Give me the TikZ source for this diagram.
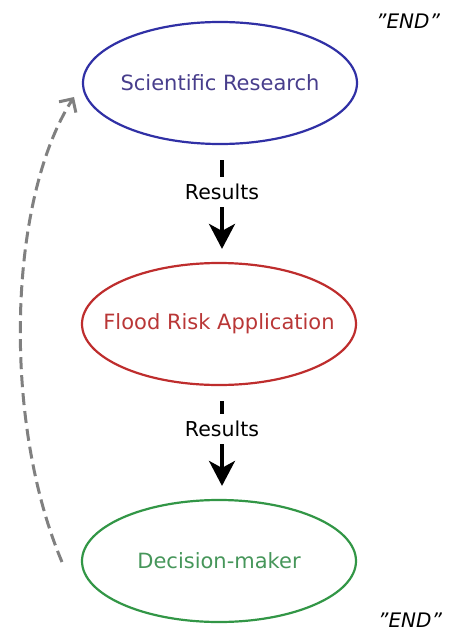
\documentclass[tikz,border=0pt]{standalone}
\usepackage{fontspec}
\setmainfont{DejaVu Sans}
\usetikzlibrary{shapes.geometric,arrows.meta}
\definecolor{sciborder}{RGB}{48,48,165}
\definecolor{scitext}{RGB}{72,62,140}
\definecolor{floodborder}{RGB}{190,45,45}
\definecolor{floodtext}{RGB}{185,55,55}
\definecolor{decborder}{RGB}{50,150,70}
\definecolor{dectext}{RGB}{70,150,90}
\definecolor{loopgray}{RGB}{128,128,128}
\tikzset{
  stage/.style={ellipse, draw, line width=2.2pt, minimum width=274pt, minimum height=122pt, inner xsep=-50pt, inner ysep=0pt, font=\fontsize{21}{24}\selectfont},
  reslabel/.style={inner sep=0pt, font=\fontsize{20.5}{24}\selectfont, text=black},
  resline/.style={line width=3.5pt, black},
  endlabel/.style={inner sep=0pt, font=\fontsize{20}{24}\selectfont\itshape},
  loop/.style={line width=3pt, loopgray, dash pattern=on 12pt off 6pt, -{Straight Barb[length=10pt,width=20pt,line width=3pt]}}
}
\begin{document}
\begin{tikzpicture}[x=1pt,y=-1pt]
\useasboundingbox (0,0) rectangle (448,631);
\node[stage, draw=sciborder, text=scitext] (sci) at (220,83) {Scientific Research};
\node[stage, draw=floodborder, text=floodtext] (flood) at (219,324) {Flood Risk Application};
\node[stage, draw=decborder, text=dectext] (dec) at (219,561) {Decision-maker};
\node[reslabel] (r1) at (222,192) {Results};
\node[reslabel] (r2) at (222,429) {Results};
\draw[resline, shorten <=15pt, shorten >=7pt] (sci.south -| r1.north) -- (r1.north);
\draw[resline, shorten <=7pt, shorten >=13pt, -{Stealth[length=25pt,width=26pt,inset=7pt]}] (r1.south) -- (flood.north -| r1.south);
\draw[resline, shorten <=15pt, shorten >=7pt] (flood.south -| r2.north) -- (r2.north);
\draw[resline, shorten <=7pt, shorten >=13pt, -{Stealth[length=25pt,width=26pt,inset=7pt]}] (r2.south) -- (dec.north -| r2.south);
\coordinate (loopstart) at (62,562);
\coordinate (loopend) at (74,97);
\draw[loop] (loopstart) .. controls (2,420) and (8,200) .. (loopend);
\node[endlabel] (end1) at (408,21) {"END"};
\node[endlabel] (end2) at (410,620) {"END"};
\end{tikzpicture}
\end{document}
